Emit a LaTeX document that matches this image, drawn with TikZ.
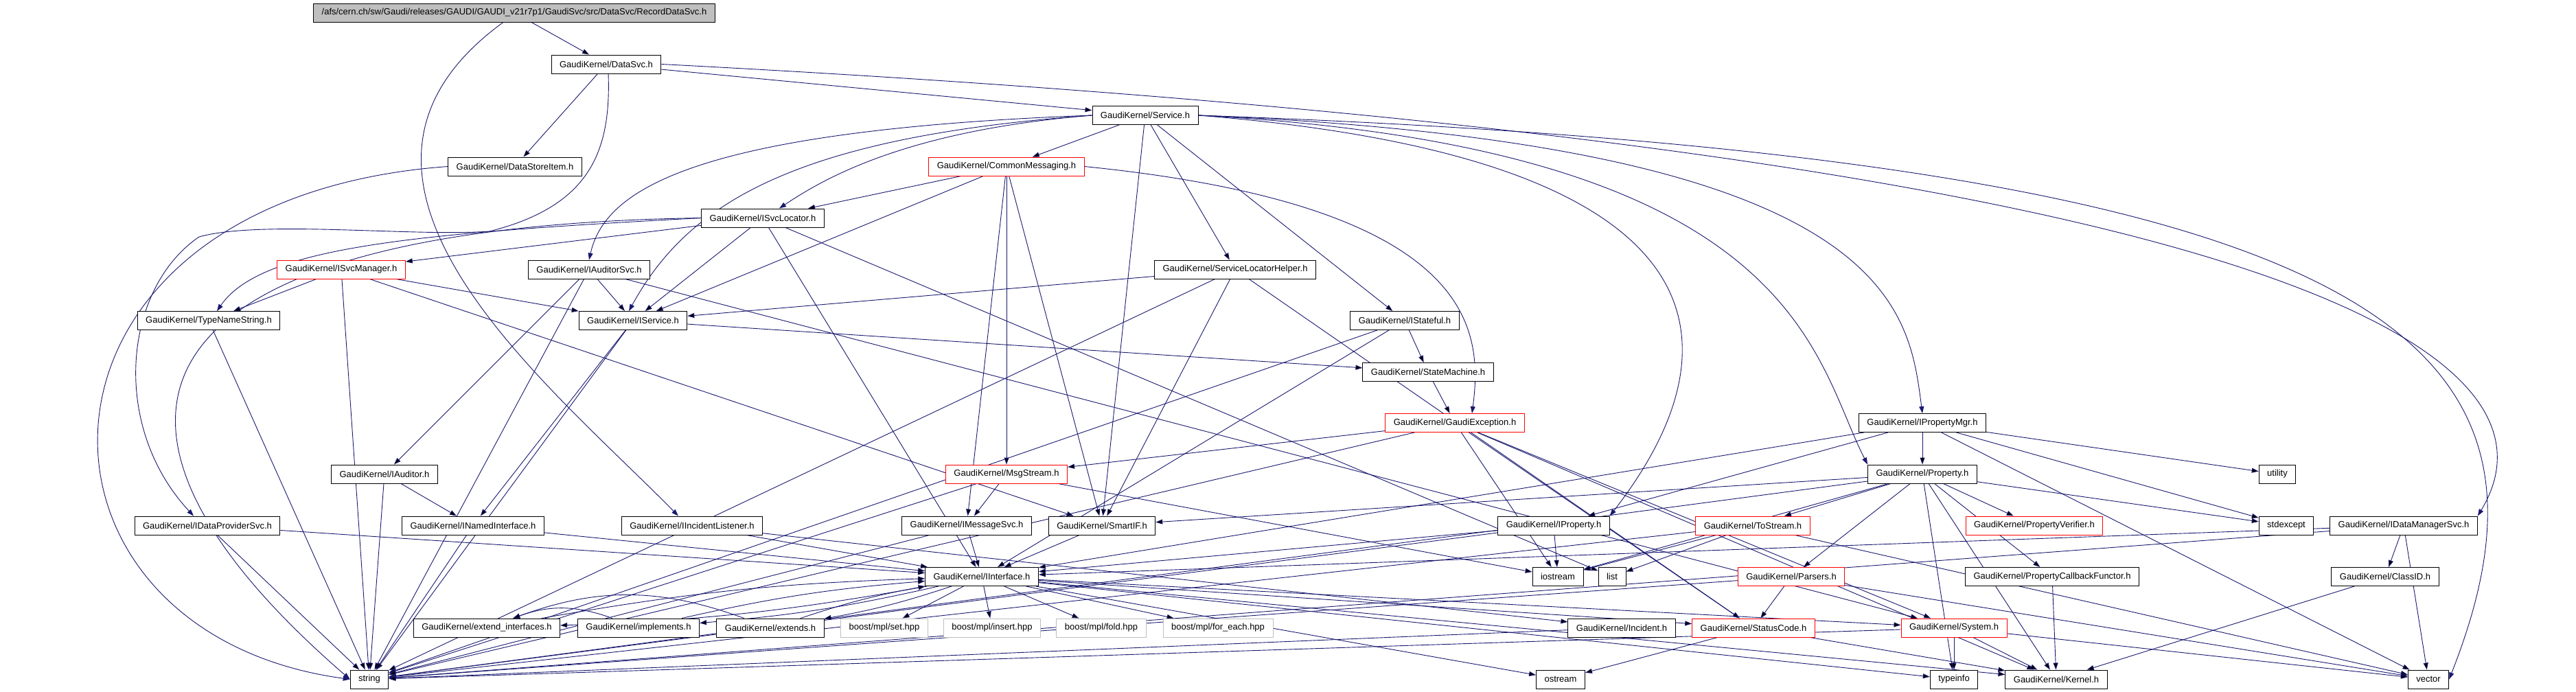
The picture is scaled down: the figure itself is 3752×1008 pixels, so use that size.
\documentclass[tikz,border=0pt]{standalone}
\usepackage{fontspec}
\setmainfont{Liberation Sans}
\usetikzlibrary{arrows.meta,backgrounds}
\definecolor{navy}{HTML}{191970}
\definecolor{boxgray}{HTML}{BFBFBF}

\begin{document}
\begin{tikzpicture}[x=1pt,y=-1pt,
    file/.style={draw,fill=white,line width=0.9pt,font=\fontsize{13}{15}\selectfont,
      inner xsep=12pt,inner ysep=0pt,minimum height=27pt},
    redfile/.style={file,draw=red},
    sysfile/.style={file,draw=boxgray},
    dep/.style={draw=navy,line width=0.9pt,-{Triangle[length=10pt,width=7pt]}}]
  \useasboundingbox (0,0) rectangle (3752,1008);
  % headers, one row of the graph after the other
  \node[file,fill=boxgray] (top) at (749,18.5) {/afs/cern.ch/sw/Gaudi/releases/GAUDI/GAUDI\_v21r7p1/GaudiSvc/src/DataSvc/RecordDataSvc.h};
  \node[file] (datasvc) at (883,93.5) {GaudiKernel/DataSvc.h};
  \node[file] (service) at (1668,168) {GaudiKernel/Service.h};
  \node[file] (storeitem) at (750,242.5) {GaudiKernel/DataStoreItem.h};
  \node[redfile] (commsg) at (1466,242.5) {GaudiKernel/CommonMessaging.h};
  \node[file] (svcloc) at (1111,317.5) {GaudiKernel/ISvcLocator.h};
  \node[redfile] (svcmgr) at (497,392.5) {GaudiKernel/ISvcManager.h};
  \node[file] (audsvc) at (858,392.5) {GaudiKernel/IAuditorSvc.h};
  \node[file] (slhelper) at (1799,392.5) {GaudiKernel/ServiceLocatorHelper.h};
  \node[file] (typename) at (304,467) {GaudiKernel/TypeNameString.h};
  \node[file] (iservice) at (922,467) {GaudiKernel/IService.h};
  \node[file] (istateful) at (2046,467) {GaudiKernel/IStateful.h};
  \node[file] (statemach) at (2080,542) {GaudiKernel/StateMachine.h};
  \node[redfile] (gexcept) at (2119,616) {GaudiKernel/GaudiException.h};
  \node[file] (propmgr) at (2800,616) {GaudiKernel/IPropertyMgr.h};
  \node[file] (iauditor) at (560,690.5) {GaudiKernel/IAuditor.h};
  \node[redfile] (msgstream) at (1466,690.5) {GaudiKernel/MsgStream.h};
  \node[file] (property) at (2800,690.5) {GaudiKernel/Property.h};
  \node[file] (utility) at (3317,690.5) {utility};
  \node[file] (dataprov) at (302,765.5) {GaudiKernel/IDataProviderSvc.h};
  \node[file] (namedif) at (689,765.5) {GaudiKernel/INamedInterface.h};
  \node[file] (incl) at (1008,765.5) {GaudiKernel/IIncidentListener.h};
  \node[file] (msgsvc) at (1408,765.5) {GaudiKernel/IMessageSvc.h};
  \node[file] (smartif) at (1605,765.5) {GaudiKernel/SmartIF.h};
  \node[file] (iproperty) at (2263,765.5) {GaudiKernel/IProperty.h};
  \node[redfile] (tostream) at (2553,765.5) {GaudiKernel/ToStream.h};
  \node[redfile] (propverif) at (2963,765.5) {GaudiKernel/PropertyVerifier.h};
  \node[file] (stdexcept) at (3330,765.5) {stdexcept};
  \node[file] (datamgr) at (3501,765.5) {GaudiKernel/IDataManagerSvc.h};
  \node[file] (iinterface) at (1430,840) {GaudiKernel/IInterface.h};
  \node[file] (iostream) at (2269,840) {iostream};
  \node[file] (list) at (2348,840) {list};
  \node[redfile] (parsers) at (2609,840) {GaudiKernel/Parsers.h};
  \node[file] (propcb) at (2989,840) {GaudiKernel/PropertyCallbackFunctor.h};
  \node[file] (classid) at (3474,840) {GaudiKernel/ClassID.h};
  \node[file] (extif) at (709,914.5) {GaudiKernel/extend\_interfaces.h};
  \node[file] (implements) at (930,914.5) {GaudiKernel/implements.h};
  \node[file] (extends) at (1122,914.5) {GaudiKernel/extends.h};
  \node[sysfile] (mplset) at (1288,914.5) {boost/mpl/set.hpp};
  \node[sysfile] (mplinsert) at (1445,914.5) {boost/mpl/insert.hpp};
  \node[sysfile] (mplfold) at (1604,914.5) {boost/mpl/fold.hpp};
  \node[sysfile] (mplforeach) at (1774,914.5) {boost/mpl/for\_each.hpp};
  \node[file] (incident) at (2362,914.5) {GaudiKernel/Incident.h};
  \node[redfile] (statuscode) at (2554,914.5) {GaudiKernel/StatusCode.h};
  \node[redfile] (system) at (2846,914.5) {GaudiKernel/System.h};
  \node[file] (string) at (538,989.5) {string};
  \node[file] (ostream) at (2273,989.5) {ostream};
  \node[file] (typeinfo) at (2846,989.5) {typeinfo};
  \node[file] (kernel) at (2995,989.5) {GaudiKernel/Kernel.h};
  \node[file] (vector) at (3537,989.5) {vector};

  % includes, behind the boxes
  \begin{scope}[on background layer]
    \path[dep] (top) edge (datasvc);
    \draw[dep] ([xshift=-16pt]top.south) .. controls (420,260) and (800,560) .. ([xshift=-20pt]incl.north);
    \path[dep] (datasvc) edge (service) edge (storeitem);
    \draw[dep] ([xshift=3pt]datasvc.south) .. controls (890,220) and (860,300) .. (713,337)
      .. controls (600,345) and (380,320) .. (290,345)
      .. controls (180,420) and (160,620) .. ([xshift=-20pt]dataprov.north);
    \draw[dep] (datasvc.east) .. controls (3690,235) and (3700,600) .. (datamgr.north east);
    \draw[dep] (storeitem.west) .. controls (0,290) and (0,920) .. (string.west);
    \path[dep] (service) edge (commsg) edge (slhelper) edge (istateful) edge (smartif);
    \draw[dep] (service.west) .. controls (1320,190) and (1200,260) .. ([xshift=24pt]svcloc.north);
    \draw[dep] (service.west) .. controls (1150,200) and (1000,300) .. ([xshift=-6pt]iservice.north);
    \draw[dep] (service.west) .. controls (1000,190) and (880,280) .. (audsvc.north);
    \draw[dep] (service.east) .. controls (2520,230) and (2540,500) .. (iproperty.north east);
    \draw[dep] (service.east) .. controls (2620,215) and (2640,520) .. (property.north west);
    \draw[dep] (service.east) .. controls (2760,210) and (2780,450) .. (propmgr.north);
    \draw[dep] (service.east) .. controls (3500,230) and (3760,500) .. (vector.east);
    \path[dep] (commsg) edge (svcloc) edge (iservice) edge (msgstream) edge (msgsvc) edge (smartif);
    \draw[dep] (commsg.east) .. controls (2150,300) and (2160,480) .. ([xshift=25pt]gexcept.north);
    \path[dep] (svcloc) edge (svcmgr) edge (iservice) edge (iinterface) edge (list);
    \draw[dep] (svcloc.west) .. controls (600,340) and (380,360) .. ([xshift=12pt]typename.north);
    \draw[dep] (svcloc.west) .. controls (200,330) and (60,600) .. (string.west);
    \path[dep] (svcmgr) edge (typename) edge (iservice) edge (smartif) edge (string);
    \path[dep] (audsvc) edge (iservice) edge (iauditor) edge (string) edge (system);
    \path[dep] (slhelper) edge (iservice) edge (smartif) edge (string) edge (statuscode);
    \path[dep] (istateful) edge (statemach) edge (iinterface) edge (string);
    \path[dep] (iservice) edge (statemach) edge (namedif) edge (string);
    \path[dep] (statemach) edge (gexcept);
    \path[dep] (gexcept) edge (msgstream) edge (iostream) edge (string) edge (statuscode)
      edge (kernel) edge (system);
    \path[dep] (propmgr) edge (property) edge (utility) edge (stdexcept) edge (vector)
      edge (iproperty) edge (iinterface);
    \path[dep] (property) edge (propverif) edge (propcb) edge (tostream) edge (parsers)
      edge (typeinfo) edge (kernel) edge (stdexcept) edge (smartif) edge (iostream) edge (string);
    \path[dep] (iauditor) edge (namedif) edge (string);
    \path[dep] (msgstream) edge (msgsvc) edge (string) edge (iostream);
    \path[dep] (dataprov) edge (iinterface) edge (string);
    \path[dep] (namedif) edge (iinterface) edge (string);
    \path[dep] (incl) edge (iinterface) edge (incident);
    \path[dep] (msgsvc) edge (iinterface) edge (string);
    \path[dep] (smartif) edge (iinterface);
    \path[dep] (iproperty) edge (iinterface) edge (iostream) edge (string);
    \path[dep] (tostream) edge (iostream) edge (list) edge (string) edge (vector);
    \path[dep] (datamgr) edge (iinterface) edge (classid) edge (vector) edge (string);
    \path[dep] (parsers) edge (statuscode) edge (vector) edge (string);
    \path[dep] (propcb) edge (kernel);
    \path[dep] (classid) edge (kernel);
    \path[dep] (iinterface) edge[bend left=4] (extif) edge[bend left=4] (implements)
      edge[bend left=4] (extends) edge (mplset) edge (mplinsert) edge (mplfold)
      edge (mplforeach) edge (statuscode) edge (system) edge (kernel) edge (ostream)
      edge (typeinfo);
    \path[dep] (extif) edge[bend left=4] (iinterface);
    \path[dep] (implements) edge[bend left=4] (iinterface) edge[bend right=20] (extif);
    \path[dep] (extends) edge[bend left=4] (iinterface) edge[bend right=20] (extif);
    \path[dep] (incident) edge (string);
    \path[dep] (statuscode) edge (ostream) edge (kernel);
    \path[dep] (system) edge (typeinfo) edge (kernel) edge (vector) edge (string);
    \path[dep] (typename) edge (string);
  \end{scope}
\end{tikzpicture}
\end{document}
